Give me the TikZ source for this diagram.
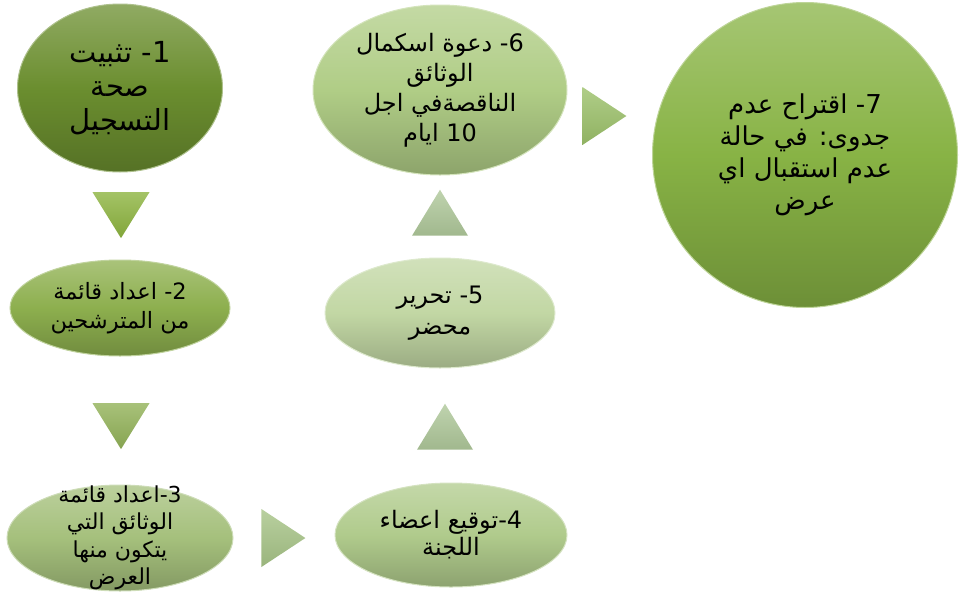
\documentclass[tikz,border=0pt]{standalone}
\usepackage{fontspec}
\usetikzlibrary{shapes.geometric}
\TeXXeTstate=1
\newfontfamily\arabicfont[Script=Arabic]{DejaVu Sans}
\definecolor{Sa}{HTML}{6B8E2F}
\definecolor{Sb}{HTML}{8DAF4E}
\definecolor{Sc}{HTML}{A5C07C}
\definecolor{Sd}{HTML}{B0CB8C}
\definecolor{Se}{HTML}{C2D7A4}
\definecolor{Sf}{HTML}{B0CD86}
\definecolor{Sg}{HTML}{88B345}
\definecolor{Ta}{HTML}{8DB43F}
\definecolor{Tb}{HTML}{92B258}
\definecolor{Tc}{HTML}{A7C487}
\definecolor{Td}{HTML}{AFC89A}
\definecolor{Te}{HTML}{9CC16A}
\tikzset{
  blob/.style={ellipse, inner sep=0pt, line width=1pt, draw=#1!55!white,
    top color=#1!75!white, bottom color=#1!80!black, middle color=#1},
  txt/.style={align=center, inner sep=0pt, text=black},
  tri/.style={isosceles triangle, isosceles triangle stretches, inner sep=0pt,
    top color=#1!80!white, bottom color=#1!92!black},
  down/.style={tri=#1, shape border rotate=-90, minimum width=57pt, minimum height=46pt},
  up/.style={tri=#1, shape border rotate=90, minimum width=56pt, minimum height=46pt},
  right/.style={tri=#1, shape border rotate=0, minimum width=58pt, minimum height=44pt},
}
\newcommand{\ltr}[1]{\beginL#1\endL}

\begin{document}
\begin{tikzpicture}[x=1pt, y=-1pt]
  \useasboundingbox (0,0) rectangle (959,603);
  % steps
  \node[blob=Sa, minimum width=205pt, minimum height=168pt,
    label={[txt, font=\arabicfont\fontsize{29}{34}\selectfont]center:{%
      \beginR\ltr{1-} تثبيت\endR\\ \beginR صحة\endR\\ \beginR التسجيل\endR}}] (s1) at (120,88) {};
  \node[blob=Sb, minimum width=220pt, minimum height=96pt,
    label={[txt, font=\arabicfont\fontsize{22.5}{29}\selectfont]center:{%
      \beginR\ltr{2-} اعداد قائمة\endR\\ \beginR من المترشحين\endR}}] (s2) at (120,308) {};
  \node[blob=Sc, minimum width=226pt, minimum height=106pt,
    label={[txt, font=\arabicfont\fontsize{22}{27.5}\selectfont]center:{%
      \beginR\ltr{3-}اعداد قائمة\endR\\ \beginR الوثائق التي\endR\\ \beginR يتكون منها\endR\\ \beginR العرض\endR}}] (s3) at (120,538) {};
  \node[blob=Sd, minimum width=232pt, minimum height=104pt,
    label={[txt, font=\arabicfont\fontsize{24}{27}\selectfont]center:{%
      \beginR\ltr{4-}توقيع اعضاء\endR\\ \beginR اللجنة\endR}}] (s4) at (451,535) {};
  \node[blob=Se, minimum width=230pt, minimum height=110pt,
    label={[txt, font=\arabicfont\fontsize{24}{31}\selectfont]center:{%
      \beginR\ltr{5-} تحرير\endR\\ \beginR محضر\endR}}] (s5) at (440,313) {};
  \node[blob=Sf, minimum width=254pt, minimum height=170pt,
    label={[txt, font=\arabicfont\fontsize{24}{30}\selectfont]center:{%
      \beginR\ltr{6-} دعوة اسكمال\endR\\ \beginR الوثائق\endR\\ \beginR الناقصةفي اجل\endR\\ \beginR\ltr{10} ايام\endR}}] (s6) at (440,90) {};
  \node[blob=Sg, minimum width=305pt, minimum height=305pt,
    label={[txt, font=\arabicfont\fontsize{26}{32}\selectfont]center:{%
      \beginR\ltr{7-} اقتراح عدم\endR\\ \beginR جدوى: في حالة\endR\\ \beginR عدم استقبال اي\endR\\ \beginR عرض\endR}}] (s7) at (805,155) {};
  % arrows
  \node[down=Ta] (a12) at (121,208) {};
  \node[down=Tb] (a23) at (121,419) {};
  \node[right=Tc] (a34) at (277,538) {};
  \node[up=Td] (a45) at (445,434) {};
  \node[up=Td] (a56) at (440,220) {};
  \node[right=Te, shape border rotate=-10] (a67) at (598,116) {};
\end{tikzpicture}
\end{document}
